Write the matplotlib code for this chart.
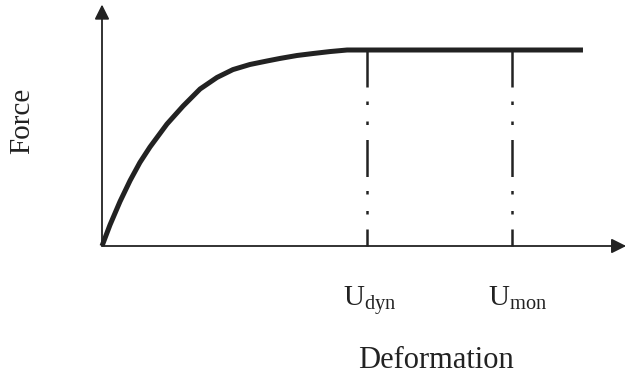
import matplotlib
matplotlib.use("Agg")
import matplotlib.pyplot as plt
import numpy as np

plt.rcParams['font.family'] = ['Liberation Serif', 'DejaVu Serif']
plt.rcParams['mathtext.fontset'] = 'custom'
plt.rcParams['mathtext.rm'] = 'Liberation Serif'
plt.rcParams['mathtext.it'] = 'Liberation Serif:italic'

# normalized deformation (U_dyn = 1) and force (plateau = 1)
deformation = [0.0, 0.030, 0.068, 0.106, 0.143, 0.181, 0.245, 0.306, 0.370, 0.434,
               0.494, 0.558, 0.623, 0.672, 0.736, 0.796, 0.860, 0.925, 1.815]
force = [0.0, 0.107, 0.227, 0.334, 0.426, 0.505, 0.622, 0.714, 0.801, 0.860,
         0.900, 0.926, 0.944, 0.957, 0.972, 0.982, 0.992, 1.0, 1.0]
markers_x = [1.0, 1.547]
marker_labels = [r'$\mathrm{U_{dyn}}$', r'$\mathrm{U_{mon}}$']
plateau = 1.0

fig = plt.figure(figsize=(6.27, 3.88), dpi=100)
ax = fig.add_axes([0, 0, 1, 1])
ax.set_xlim(-102/265, 525/265)
ax.set_ylim(-142/196, 246/196)
ax.axis('off')

ink = '#222222'
# axes arrows
ax.annotate('', xy=(1.978, 0), xytext=(0, 0),
            arrowprops=dict(arrowstyle='-|>', color=ink, lw=1.3,
                            mutation_scale=22, shrinkA=0, shrinkB=0))
ax.annotate('', xy=(0, 1.232), xytext=(0, 0),
            arrowprops=dict(arrowstyle='-|>', color=ink, lw=1.3,
                            mutation_scale=22, shrinkA=0, shrinkB=0))

# curve
ax.plot(deformation, force, color=ink, lw=3.6, solid_capstyle='butt',
        solid_joinstyle='round')

# dash-dot verticals
for xm, lab in zip(markers_x, marker_labels):
    ax.plot([xm, xm], [plateau, 0], color=ink, lw=1.8,
            dashes=(14.8, 5.6, 1.4, 6.6, 1.4, 6.0))
    ax.text(xm - 0.09, -0.305, lab, fontsize=21, ha='left', va='baseline',
            color=ink)

ax.text(1.26, -0.62, 'Deformation', fontsize=22, ha='center', va='baseline',
        color=ink)
ax.text(-0.30, 0.64, 'Force', fontsize=21, ha='center', va='center',
        rotation=90, color=ink)

fig.savefig('out.png', dpi=100)
